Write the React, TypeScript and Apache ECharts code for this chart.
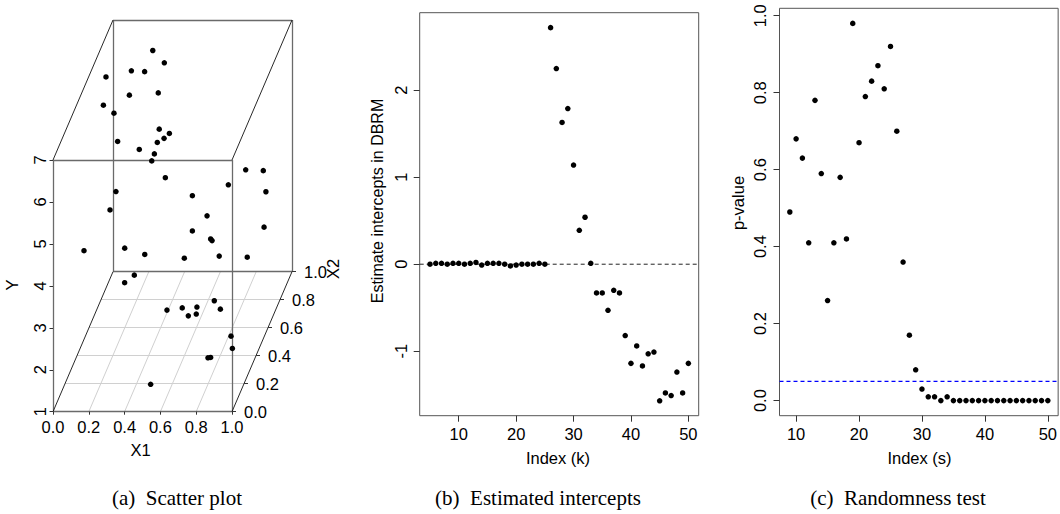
import React, { useEffect, useRef } from "react";
import * as echarts from "echarts";

// ---------- Panel (a): 3D scatter (X1, X2, Y) ----------
const x1Vals = [0.259, 0.337, 0.163, 0.237, 0.048, 0.182, 0.34, 0.077, 0.116, 0.389, 0.449, 0.426, 0.395, 0.17, 0.301, 0.392, 0.384, 0.46, 0.872, 0.92, 0.812, 0.928, 0.184, 0.611, 0.161, 0.693, 0.921, 0.611, 0.713, 0.721, 0.233, 0.086, 0.345, 0.566, 0.761, 0.874, 0.246, 0.29, 0.516, 0.598, 0.642, 0.683, 0.68, 0.767, 0.811, 0.904, 0.925, 0.802, 0.817, 0.512];
const x2Vals = [0.89, 0.85, 0.82, 0.82, 0.74, 0.73, 0.74, 0.61, 0.67, 0.61, 0.6, 0.58, 0.56, 0.57, 0.54, 0.52, 0.5, 0.5, 0.61, 0.76, 0.5, 0.78, 0.5, 0.5, 0.47, 0.5, 0.77, 0.5, 0.5, 0.5, 0.5, 0.26, 0.5, 0.5, 0.5, 0.63, 0.46, 0.49, 0.36, 0.37, 0.34, 0.35, 0.37, 0.4, 0.37, 0.27, 0.23, 0.19, 0.19, 0.1];
const yVals = [6.64, 6.48, 6.39, 6.37, 6.51, 6.11, 6.13, 6.27, 5.88, 5.7, 5.63, 5.58, 5.55, 5.54, 5.45, 5.41, 5.31, 4.91, 4.73, 4.21, 4.74, 3.64, 4.58, 4.48, 4.24, 4.0, 2.83, 3.64, 3.45, 3.41, 3.23, 3.97, 3.08, 2.99, 3.04, 2.58, 2.54, 2.62, 2.22, 2.24, 2.15, 2.16, 2.26, 2.31, 2.21, 1.9, 1.74, 1.65, 1.66, 1.32];
const x1Ticks = [0, 0.2, 0.4, 0.6, 0.8, 1.0];
const x2Ticks = [0, 0.2, 0.4, 0.6, 0.8, 1.0];
const x2Grid = [0.2, 0.4, 0.6, 0.8];
const x1Grid = [0.2, 0.4, 0.6, 0.8];
const yTicks = [1, 2, 3, 4, 5, 6, 7];
const yBoxMin = 1;
const yBoxMax = 7;

// ---------- Panel (b): estimated intercepts ----------
const kStart = 5;
const intercepts = [0.0, 0.01, 0.01, 0.0, 0.01, 0.01, 0.0, 0.01, 0.02, -0.01, 0.01, 0.01, 0.01, 0.0, -0.02, -0.01, 0.0, 0.0, 0.0, 0.01, 0.0,
  2.72, 2.25, 1.63, 1.79, 1.14, 0.39, 0.54, 0.01, -0.33, -0.33, -0.53, -0.3, -0.33, -0.82, -1.14, -0.94, -1.17, -1.03, -1.01, -1.57, -1.48, -1.51, -1.24, -1.48, -1.14];
const kTicks = [10, 20, 30, 40, 50];
const interceptTicks = [-1, 0, 1, 2];
const interceptRef = 0;

// ---------- Panel (c): randomness test ----------
const sStart = 9;
const pValues = [0.49, 0.68, 0.63, 0.41, 0.78, 0.59, 0.26, 0.41, 0.58, 0.42, 0.98, 0.67, 0.79, 0.83, 0.87, 0.81, 0.92, 0.7, 0.36, 0.17, 0.08, 0.03, 0.01, 0.01, 0.0, 0.01,
  0, 0, 0, 0, 0, 0, 0, 0, 0, 0, 0, 0, 0, 0, 0, 0];
const sTicks = [10, 20, 30, 40, 50];
const pTicks = [0, 0.2, 0.4, 0.6, 0.8, 1.0];
const pThreshold = 0.05;

// ---------- layout / style constants ----------
const SANS = '"Liberation Sans", Arial, Helvetica, sans-serif';
const SERIF = '"Liberation Serif", "Times New Roman", serif';
const A_LEFT = 53;
const A_BOTTOM = 411.7;
const UX = 179; // px per X1 unit
const VY = 41.95; // px per Y unit
const OFFX = 60; // px shift for X2 = 1
const OFFY = 140;
const DX = OFFX / UX;
const DY = OFFY / VY;
const DOT = 5.5;

const proj = (x1: number, x2: number, y: number): [number, number] => [x1 + x2 * DX, y + x2 * DY];
const pxA = (x1: number, x2: number, y: number): [number, number] => {
  const [u, v] = proj(x1, x2, y);
  return [A_LEFT + u * UX, A_BOTTOM - (v - yBoxMin) * VY];
};

// R-style axis expansion (4%)
const rRange = (vals: number[]): [number, number] => {
  const lo = Math.min(...vals);
  const hi = Math.max(...vals);
  const d = (hi - lo) * 0.04;
  return [lo - d, hi + d];
};

function seg(a: [number, number, number], b: [number, number, number]) {
  return { coords: [proj(a[0], a[1], a[2]), proj(b[0], b[1], b[2])] };
}

function text(x: number, y: number, t: string, size: number, opts: any = {}) {
  const align = opts.align || "center";
  return {
    type: "text",
    x,
    y,
    rotation: opts.rotate ? Math.PI / 2 : 0,
    silent: true,
    z: 100,
    style: {
      text: t,
      fill: "#000",
      font: `${size}px ${opts.family || SANS}`,
      textAlign: align,
      align,
      textVerticalAlign: "middle",
      verticalAlign: "middle",
    },
  };
}

function refLine(xi: number, x0: number, x1: number, y: number, color: string, width: number) {
  return {
    type: "line", xAxisIndex: xi, yAxisIndex: xi, silent: true, symbol: "none", z: 3,
    lineStyle: { color, width, type: [4, 3], opacity: 1 },
    itemStyle: { color },
    data: [[x0, y], [x1, y]],
  };
}

function buildOption() {
  // panel (a) line work
  const floorGrid: any[] = [];
  x1Grid.forEach((t) => floorGrid.push(seg([t, 0, yBoxMin], [t, 1, yBoxMin])));
  x2Grid.forEach((t) => floorGrid.push(seg([0, t, yBoxMin], [1, t, yBoxMin])));

  const faceLines: any[] = [];
  [0, 1].forEach((d) => {
    faceLines.push(seg([0, d, yBoxMin], [1, d, yBoxMin]));
    faceLines.push(seg([1, d, yBoxMin], [1, d, yBoxMax]));
    faceLines.push(seg([1, d, yBoxMax], [0, d, yBoxMax]));
    faceLines.push(seg([0, d, yBoxMax], [0, d, yBoxMin]));
  });
  const diagLines: any[] = [];
  [[0, yBoxMin], [1, yBoxMin], [0, yBoxMax], [1, yBoxMax]].forEach(([x, y]) =>
    diagLines.push(seg([x, 0, y], [x, 1, y]))
  );

  const tickLines: any[] = [];
  x1Ticks.forEach((t) => tickLines.push({ coords: [proj(t, 0, yBoxMin), [proj(t, 0, yBoxMin)[0], yBoxMin - 3 / VY]] }));
  yTicks.forEach((t) => tickLines.push({ coords: [proj(0, 0, t), [-3.5 / UX, t]] }));
  x2Ticks.forEach((t) => {
    const p = proj(1, t, yBoxMin);
    tickLines.push({ coords: [p, [p[0] + 4 / UX, p[1]]] });
  });

  const pts = x1Vals.map((x, i) => proj(x, x2Vals[i], yVals[i]));

  const [bYMin, bYMax] = rRange(intercepts);
  const kIdx = intercepts.map((_, i) => kStart + i);
  const [bXMin, bXMax] = rRange(kIdx);
  const sIdx = pValues.map((_, i) => sStart + i);
  const [cXMin, cXMax] = rRange(sIdx);
  const [cYMin, cYMax] = rRange(pValues);

  const graphics: any[] = [];
  // panel (a) labels
  yTicks.forEach((t) => {
    const p = pxA(0, 0, t);
    graphics.push(text(p[0] - 13, p[1], String(t), 16.5, { rotate: true }));
  });
  x1Ticks.forEach((t) => {
    const p = pxA(t, 0, yBoxMin);
    graphics.push(text(p[0], p[1] + 15, t.toFixed(1), 16.5));
  });
  x2Ticks.forEach((t) => {
    const p = pxA(1, t, yBoxMin);
    graphics.push(text(p[0] + 12, p[1] + 0.5, t.toFixed(1), 16.5, { align: "left" }));
  });
  graphics.push(text(12, 285, "Y", 16.5, { rotate: true }));
  graphics.push(text(140.5, 450, "X1", 16.5));
  graphics.push(text(333, 269, "X2", 16.5, { rotate: true }));
  // panel (b) titles
  graphics.push(text(377, 201, "Estimate intercepts in DBRM", 16, { rotate: true }));
  graphics.push(text(558, 458, "Index (k)", 16.5));
  // panel (c) titles
  graphics.push(text(738, 203, "p-value", 16.5, { rotate: true }));
  graphics.push(text(919.5, 458, "Index (s)", 16.5));
  // captions
  graphics.push(text(177, 498, "(a)\u00a0\u00a0Scatter plot", 21, { family: SERIF }));
  graphics.push(text(538, 498, "(b)\u00a0\u00a0Estimated intercepts", 21, { family: SERIF }));
  graphics.push(text(898, 497.5, "(c)\u00a0\u00a0Randomness test", 21, { family: SERIF }));

  const hiddenAxis = { show: false, type: "value" };
  const tickStyle = { lineStyle: { color: "#333", width: 1 }, length: 6 };

  return {
    animation: false,
    backgroundColor: "#fff",
    grid: [
      { left: A_LEFT, top: A_BOTTOM - (yBoxMax - yBoxMin + DY) * VY, width: (1 + DX) * UX, height: (yBoxMax - yBoxMin + DY) * VY, show: false },
      { left: 419.7, top: 12.7, width: 279, height: 403, show: true, borderColor: "#555", borderWidth: 1 },
      { left: 779.5, top: 8.3, width: 281, height: 407.4, show: true, borderColor: "#555", borderWidth: 1 },
    ],
    xAxis: [
      { ...hiddenAxis, gridIndex: 0, min: 0, max: 1 + DX },
      {
        type: "value", gridIndex: 1, min: bXMin, max: bXMax,
        axisLine: { show: false, onZero: false },
        axisTick: { show: true, customValues: kTicks, ...tickStyle },
        axisLabel: { customValues: kTicks, fontFamily: SANS, fontSize: 16.5, color: "#000", margin: 10 },
        splitLine: { show: false },
      },
      {
        type: "value", gridIndex: 2, min: cXMin, max: cXMax,
        axisLine: { show: false, onZero: false },
        axisTick: { show: true, customValues: sTicks, ...tickStyle },
        axisLabel: { customValues: sTicks, fontFamily: SANS, fontSize: 16.5, color: "#000", margin: 10 },
        splitLine: { show: false },
      },
    ],
    yAxis: [
      { ...hiddenAxis, gridIndex: 0, min: yBoxMin, max: yBoxMax + DY },
      {
        type: "value", gridIndex: 1, min: bYMin, max: bYMax,
        axisLine: { show: false, onZero: false },
        axisTick: { show: true, customValues: interceptTicks, ...tickStyle },
        axisLabel: { customValues: interceptTicks, rotate: 90, fontFamily: SANS, fontSize: 16.5, color: "#000", margin: 10 },
        splitLine: { show: false },
      },
      {
        type: "value", gridIndex: 2, min: cYMin, max: cYMax,
        axisLine: { show: false, onZero: false },
        axisTick: { show: true, customValues: pTicks, ...tickStyle },
        axisLabel: { customValues: pTicks, rotate: 90, fontFamily: SANS, fontSize: 16.5, color: "#000", margin: 11, formatter: (v: number) => v.toFixed(1) },
        splitLine: { show: false },
      },
    ],
    series: [
      {
        type: "lines", coordinateSystem: "cartesian2d", xAxisIndex: 0, yAxisIndex: 0, silent: true, clip: false, z: 1,
        lineStyle: { color: "#d0d0d0", width: 1, opacity: 1 }, data: floorGrid,
      },
      {
        type: "lines", coordinateSystem: "cartesian2d", xAxisIndex: 0, yAxisIndex: 0, silent: true, clip: false, z: 2,
        lineStyle: { color: "#6a6a6a", width: 1.3, opacity: 1 }, data: faceLines,
      },
      {
        type: "lines", coordinateSystem: "cartesian2d", xAxisIndex: 0, yAxisIndex: 0, silent: true, clip: false, z: 2,
        lineStyle: { color: "#111", width: 0.9, opacity: 1 }, data: diagLines,
      },
      {
        type: "lines", coordinateSystem: "cartesian2d", xAxisIndex: 0, yAxisIndex: 0, silent: true, clip: false, z: 2,
        lineStyle: { color: "#333", width: 1, opacity: 1 }, data: tickLines,
      },
      {
        type: "scatter", xAxisIndex: 0, yAxisIndex: 0, symbol: "circle", symbolSize: DOT, clip: false, z: 5,
        itemStyle: { color: "#000", opacity: 1 }, data: pts,
      },
      refLine(1, bXMin, bXMax, interceptRef, "#222222", 1),
      {
        type: "scatter", xAxisIndex: 1, yAxisIndex: 1, symbol: "circle", symbolSize: DOT, z: 5,
        itemStyle: { color: "#000", opacity: 1 },
        data: kIdx.map((k, i) => [k, intercepts[i]]),
      },
      refLine(2, cXMin, cXMax, pThreshold, "#0000ff", 1.3),
      {
        type: "scatter", xAxisIndex: 2, yAxisIndex: 2, symbol: "circle", symbolSize: DOT, z: 5,
        itemStyle: { color: "#000", opacity: 1 },
        data: sIdx.map((s, i) => [s, pValues[i]]),
      },
    ],
    graphic: graphics,
  };
}

export default function App() {
  const ref = useRef<HTMLDivElement>(null);
  useEffect(() => {
    if (!ref.current) return;
    const chart = echarts.init(ref.current, undefined, { renderer: "svg" });
    chart.setOption(buildOption() as any);
    return () => chart.dispose();
  }, []);
  return (
    <div
      ref={ref}
      style={{ position: "absolute", left: 0, top: 0, width: 1060, height: 514, background: "#fff" }}
    />
  );
}
